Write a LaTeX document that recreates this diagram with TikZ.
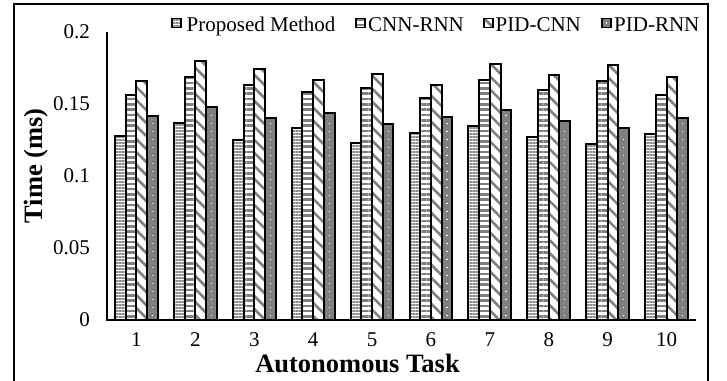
\documentclass[tikz,border=0pt]{standalone}
\usepackage{fontspec}
\setmainfont{Liberation Serif}
\usetikzlibrary{patterns.meta}

\tikzset{
  txt/.style={inner sep=0pt, font=\fontsize{21}{24}\selectfont},
  ttl/.style={inner sep=0pt, font=\fontsize{26.5}{30}\bfseries\selectfont},
  outline/.style={draw=black, line width=2pt},
  patP/.style={pattern={Lines[angle=0,distance=3pt,line width=1.2pt]}, pattern color=black!45},
  patC/.style={pattern={Lines[angle=0,distance=5.3pt,line width=2.6pt]}, pattern color=black!50},
  patD/.style={pattern={Lines[angle=-45,distance=9.2pt,line width=2.6pt]}, pattern color=black!50},
  patR/.style={fill=black!50},
  rdots/.style={draw=white, line width=1.2pt, dash pattern=on 1.5pt off 6.5pt},
  axisline/.style={draw=black, line width=1.3pt},
  frameline/.style={draw=black, line width=1.4pt},
}

\begin{document}
\begin{tikzpicture}[x=1pt, y=-1pt]
\useasboundingbox (0,0) rectangle (727,380);

% outer frame
\draw[frameline] (14,4) rectangle (708,395);

% bars: group / proposed / CNN-RNN / PID-CNN / PID-RNN
\def\bw{10.71}
\foreach \g/\vp/\vc/\vd/\vr in {
  1/0.128/0.156/0.166/0.142,
  2/0.137/0.169/0.180/0.148,
  3/0.125/0.163/0.174/0.140,
  4/0.133/0.158/0.167/0.144,
  5/0.123/0.161/0.171/0.136,
  6/0.130/0.154/0.163/0.141,
  7/0.135/0.167/0.178/0.146,
  8/0.127/0.160/0.170/0.138,
  9/0.122/0.166/0.177/0.133,
  10/0.129/0.156/0.169/0.140}{
  \pgfmathsetmacro{\cx}{107+(\g-0.5)*58.9}
  \pgfmathsetmacro{\xa}{\cx-2*\bw}
  \pgfmathsetmacro{\xb}{\cx-\bw}
  \pgfmathsetmacro{\xc}{\cx}
  \pgfmathsetmacro{\xd}{\cx+\bw}
  \pgfmathsetmacro{\xe}{\cx+2*\bw}
  \pgfmathsetmacro{\ya}{320-\vp*1440}
  \pgfmathsetmacro{\yb}{320-\vc*1440}
  \pgfmathsetmacro{\yc}{320-\vd*1440}
  \pgfmathsetmacro{\yd}{320-\vr*1440}
  \pgfmathsetmacro{\xm}{\cx+1.5*\bw}
  \fill[patP] (\xa,320) rectangle (\xb,\ya);
  \fill[patC] (\xb,320) rectangle (\xc,\yb);
  \fill[patD] (\xc,320) rectangle (\xd,\yc);
  \fill[patR] (\xd,320) rectangle (\xe,\yd);
  \draw[rdots] (\xm,316) -- (\xm,\yd+4);
  \draw[outline] (\xa,320) rectangle (\xb,\ya);
  \draw[outline] (\xb,320) rectangle (\xc,\yb);
  \draw[outline] (\xc,320) rectangle (\xd,\yc);
  \draw[outline] (\xd,320) rectangle (\xe,\yd);
  \node[txt, anchor=base] (xl\g) at (\cx,346) {\g};
}

% axes
\coordinate (o) at (107,320);
\coordinate (ytop) at (107,32);
\coordinate (xend) at (696,320);
\draw[axisline] (ytop) -- (o) -- (xend);

% y tick labels
\node[txt, anchor=east] (y0) at (90,320) {0};
\node[txt, anchor=east] (y1) at (90,248) {0.05};
\node[txt, anchor=east] (y2) at (90,176) {0.1};
\node[txt, anchor=east] (y3) at (90,104) {0.15};
\node[txt, anchor=east] (y4) at (90,32) {0.2};

% axis titles
\node[ttl, anchor=base, rotate=90] (ytitle) at (42,166) {Time (ms)};
\node[ttl, anchor=base] (xtitle) at (357.5,372) {Autonomous Task};

% legend
\fill[patP] (172,18.5) rectangle (181,27.5);
\draw[draw=black, line width=1.5pt] (172,18.5) rectangle (181,27.5);
\node[txt, anchor=base west] (l1) at (186.5,31) {Proposed Method};

\fill[patC] (356,18.5) rectangle (365,27.5);
\draw[draw=black, line width=1.5pt] (356,18.5) rectangle (365,27.5);
\node[txt, anchor=base west] (l2) at (368,31) {CNN-RNN};

\fill[patD] (484,18.5) rectangle (493,27.5);
\draw[draw=black, line width=1.5pt] (484,18.5) rectangle (493,27.5);
\node[txt, anchor=base west] (l3) at (495.5,31) {PID-CNN};

\fill[patR] (602,18.5) rectangle (611,27.5);
\fill[white] (605.8,21.8) rectangle (607.2,24.2);
\draw[draw=black, line width=1.5pt] (602,18.5) rectangle (611,27.5);
\node[txt, anchor=base west] (l4) at (614,31) {PID-RNN};
\end{tikzpicture}
\end{document}
